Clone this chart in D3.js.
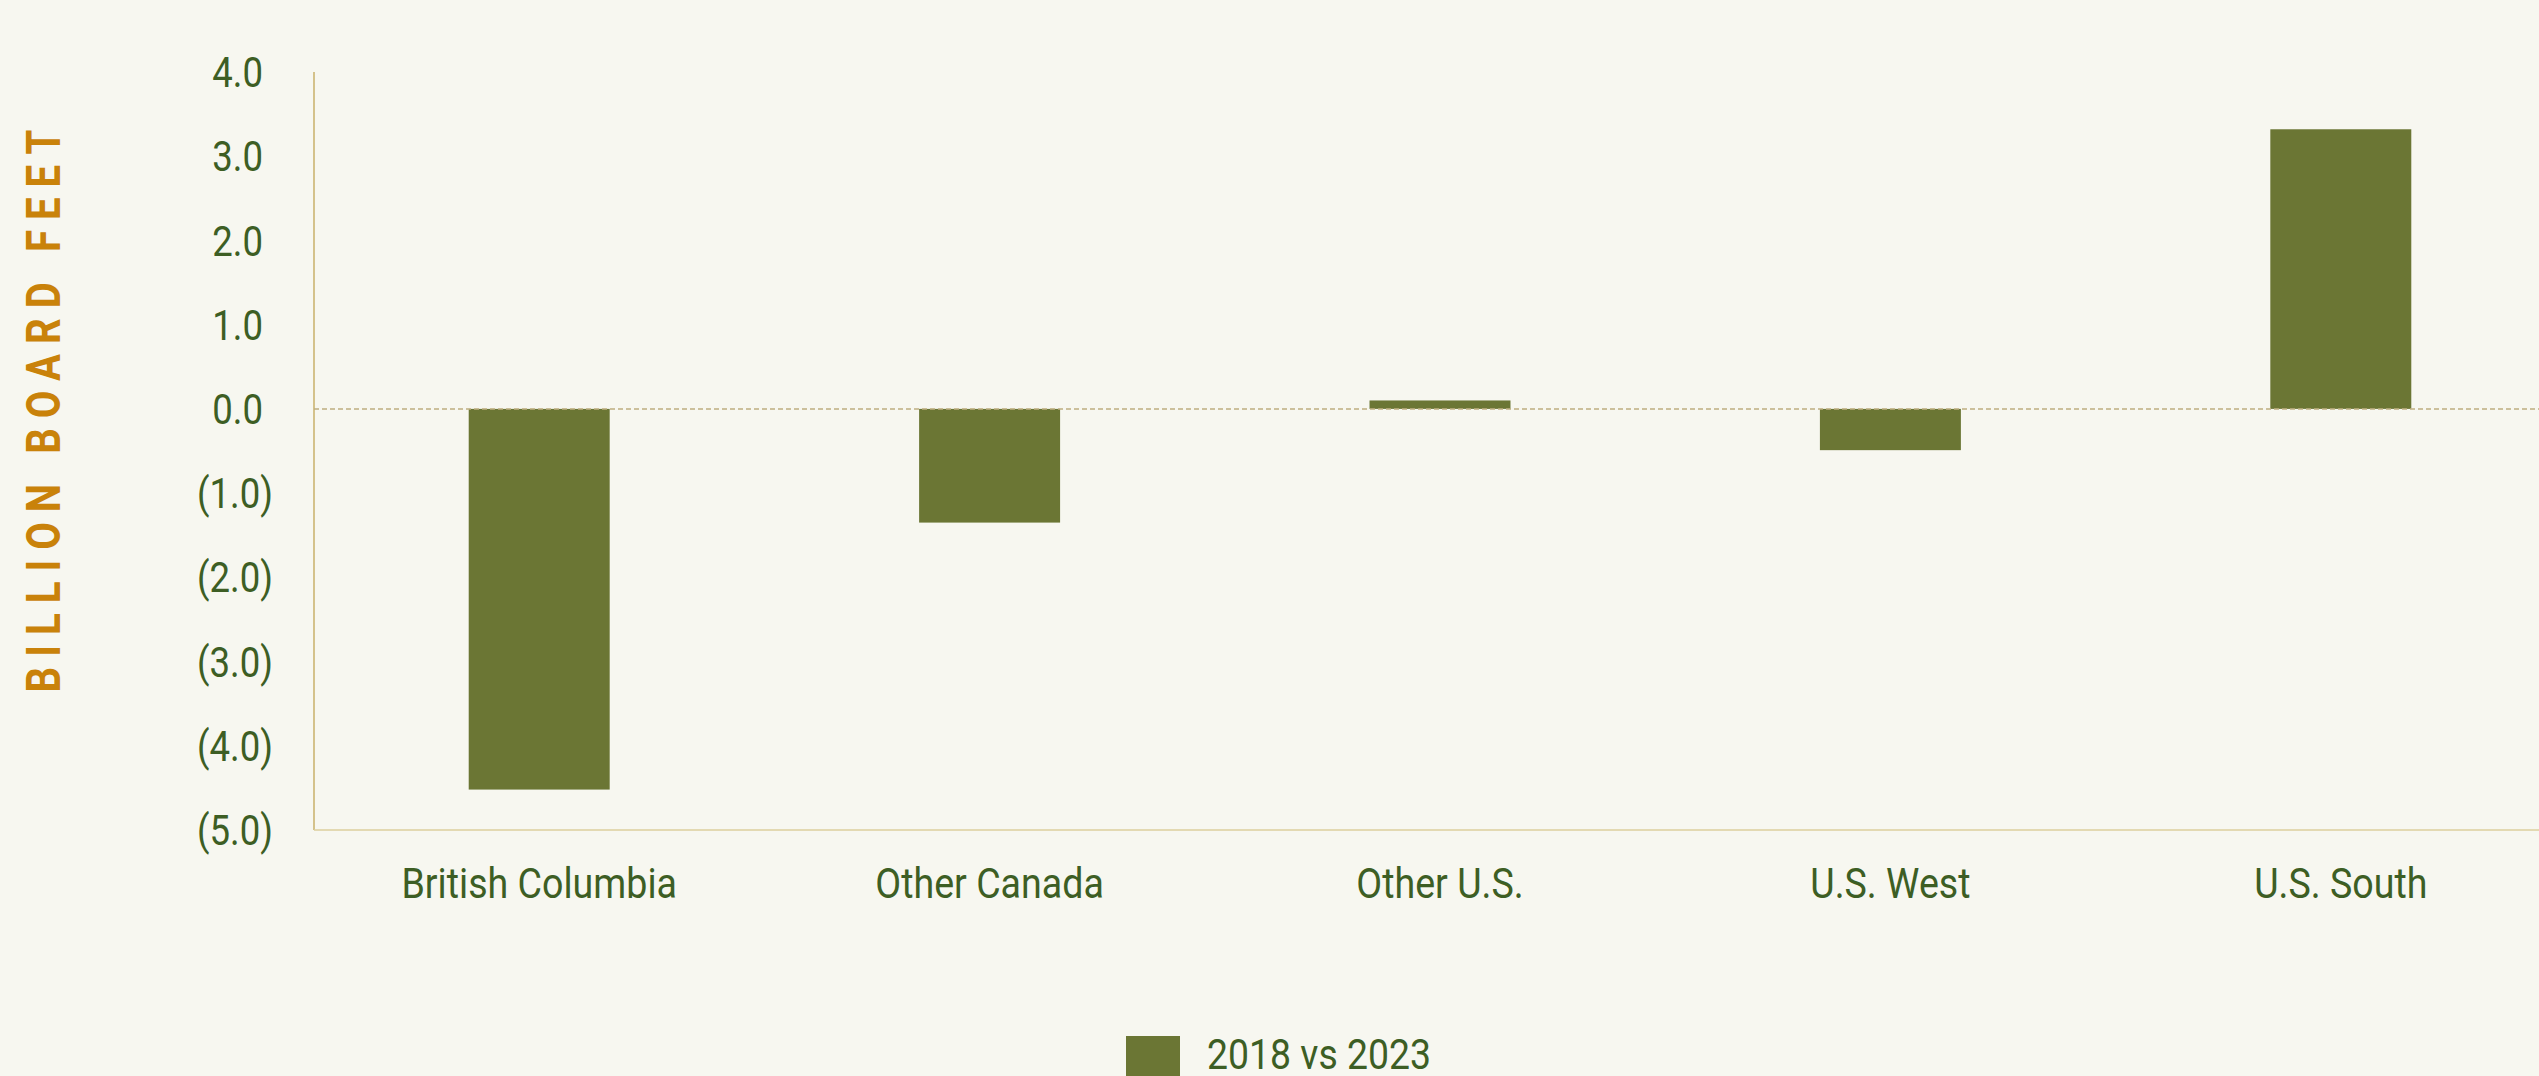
<!DOCTYPE html>
<html>
<head>
<meta charset="utf-8">
<script src="https://cdn.jsdelivr.net/npm/d3@7"></script>
<style>
  html, body { margin: 0; padding: 0; background: #f7f7f0; overflow: hidden; }
  svg { display: block; }
  text { font-family: Roboto, "Noto Sans", sans-serif; }
</style>
</head>
<body>
<div id="chart"></div>
<script>
// data (billion board feet, change 2018 vs 2023)
var regions = ["British Columbia", "Other Canada", "Other U.S.", "U.S. West", "U.S. South"];
var change = [-4.52, -1.35, 0.10, -0.49, 3.32];
var yTicks = [4, 3, 2, 1, 0, -1, -2, -3, -4, -5];
var seriesName = "2018 vs 2023";

var width = 2539, height = 1076;
var barColor = "#6b7634", labelColor = "#3d5e24", titleColor = "#c9820a", axisColor = "#c8b06a";

var svg = d3.select("#chart").append("svg")
    .attr("width", width)
    .attr("height", height)

svg.append("rect").attr("width", width).attr("height", height).attr("fill", "#f7f7f0")

// plot area runs past the right edge like the original
// (note: "top" is taken by window.top, so use other names)
var plotL = 314, plotT = 72, plotB = 830, plotR = 2566;

var x = d3.scaleBand()
  .domain(regions)
  .range([plotL, plotR])
  .padding(0)

var y = d3.scaleLinear()
  .domain([-5, 4])
  .range([plotB, plotT])

var barW = x.bandwidth() * 0.313;

// squeeze Roboto a bit so it looks like the condensed face
function condense(sel, k) {
  sel.each(function() {
    var l = this.getComputedTextLength();
    d3.select(this).attr("textLength", l * k).attr("lengthAdjust", "spacingAndGlyphs");
  });
}

// y axis line + bottom line
svg.append("line")
  .attr("x1", plotL).attr("x2", plotL)
  .attr("y1", plotT).attr("y2", plotB)
  .attr("stroke", axisColor).attr("stroke-width", 1.5)
svg.append("line")
  .attr("x1", plotL).attr("x2", width)
  .attr("y1", plotB).attr("y2", plotB)
  .attr("stroke", "#ddcf9e").attr("stroke-width", 1.5)

// y tick labels, negatives shown in brackets
var fmt = d3.format(".1f");
var yLab = svg.append("g").selectAll("text")
  .data(yTicks)
  .enter()
  .append("text")
    .attr("x", function(d){ return d < 0 ? 273 : 263 })
    .attr("y", function(d){ return y(d) })
    .attr("dy", "0.36em")
    .attr("text-anchor", "end")
    .attr("font-size", 42)
    .attr("fill", labelColor)
    .text(function(d){ return d < 0 ? "(" + fmt(-d) + ")" : fmt(d) })
condense(yLab, 0.87);

// bars
svg.append("g")
  .selectAll("rect")
  .data(change)
  .enter()
  .append("rect")
    .attr("x", function(d, i){ return x(regions[i]) + x.bandwidth() / 2 - barW / 2 })
    .attr("y", function(d){ return y(Math.max(0, d)) })
    .attr("width", barW)
    .attr("height", function(d){ return Math.abs(y(d) - y(0)) })
    .attr("fill", barColor)

// dashed zero line on top of the bars
svg.append("line")
  .attr("x1", plotL).attr("x2", width)
  .attr("y1", y(0)).attr("y2", y(0))
  .attr("stroke", "#bfae80").attr("stroke-width", 1.5)
  .attr("stroke-dasharray", "5,3")

// category labels
var xLab = svg.append("g").selectAll("text")
  .data(regions)
  .enter()
  .append("text")
    .attr("x", function(d){ return x(d) + x.bandwidth() / 2 })
    .attr("y", 898)
    .attr("text-anchor", "middle")
    .attr("font-size", 42)
    .attr("fill", labelColor)
    .text(function(d){ return d })
condense(xLab, 0.895);

// axis title
var title = svg.append("text")
  .attr("transform", "translate(60," + 406 + ") rotate(-90)")
  .attr("text-anchor", "middle")
  .attr("font-size", 48)
  .attr("font-weight", "bold")
  .attr("letter-spacing", 12)
  .attr("fill", titleColor)
  .text("BILLION BOARD FEET")
title.attr("textLength", 573).attr("lengthAdjust", "spacingAndGlyphs")

// legend
svg.append("rect")
  .attr("x", 1126).attr("y", 1036)
  .attr("width", 54).attr("height", 54)
  .attr("fill", barColor)
var leg = svg.append("text")
  .attr("x", 1207).attr("y", 1069)
  .attr("font-size", 42)
  .attr("fill", labelColor)
  .text(seriesName)
condense(leg, 0.89);
</script>
</body>
</html>
